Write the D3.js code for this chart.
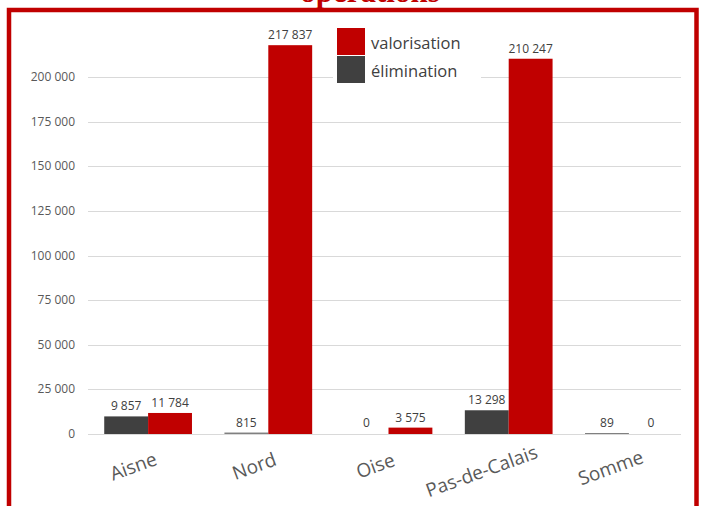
<!DOCTYPE html>
<html><head><meta charset="utf-8">
<script src="https://cdn.jsdelivr.net/npm/d3@7/dist/d3.min.js"></script>
<style>
html,body{margin:0;padding:0;background:#fff;}
svg{display:block;}
</style></head>
<body>
<svg id="chart" width="704" height="506"></svg>
<script>
const categories = ["Aisne", "Nord", "Oise", "Pas-de-Calais", "Somme"];
const elimination = [9857, 815, 0, 13298, 89];
const valorisation = [11784, 217837, 3575, 210247, 0];
const seriesNames = ["élimination", "valorisation"];
const legendOrder = ["valorisation", "élimination"];
const yTicks = [0, 25000, 50000, 75000, 100000, 125000, 150000, 175000, 200000];
const titleText = "opérations";

const colors = {"valorisation": "#c00000", "élimination": "#404040"};
const seriesData = {"élimination": elimination, "valorisation": valorisation};

const svg = d3.select("#chart");
const fmt = v => d3.format(",")(v).replace(/,/g, " ");

const x0 = d3.scaleBand().domain(categories).range([88, 689]);
const bw = x0.bandwidth();
const x1 = d3.scaleBand().domain(seriesNames).range([bw * 0.135, bw * 0.865]);
const y = d3.scaleLinear().domain([0, 225000]).range([434, 32.4]);

// title (cut off at top, as in the reference)
svg.append("text").attr("x", 370).attr("y", 1.5).attr("text-anchor", "middle")
  .attr("font-family", "Liberation Serif").attr("font-weight", "bold").attr("font-size", 31)
  .attr("fill", "#c00000").text(titleText);

// gridlines
svg.append("g").selectAll("line").data(yTicks).join("line")
  .attr("x1", 88).attr("x2", 681)
  .attr("y1", d => Math.round(y(d)) + 0.5).attr("y2", d => Math.round(y(d)) + 0.5)
  .attr("stroke", "#d9d9d9").attr("stroke-width", 1);

// y axis labels
svg.append("g").selectAll("text").data(yTicks).join("text")
  .attr("x", 75).attr("y", d => y(d) + 4).attr("text-anchor", "end")
  .attr("font-family", "Open Sans").attr("font-size", 12).attr("fill", "#595959")
  .text(d => fmt(d));

// bars
const rows = categories.map((c, i) => ({c, vals: seriesNames.map(s => ({s, v: seriesData[s][i]}))}));
const g = svg.append("g").selectAll("g").data(rows).join("g")
  .attr("transform", d => `translate(${x0(d.c)},0)`);
g.selectAll("rect").data(d => d.vals.filter(e => e.v > 0)).join("rect")
  .attr("x", d => x1(d.s)).attr("width", x1.bandwidth())
  .attr("y", d => Math.min(y(d.v), y(0) - 1))
  .attr("height", d => Math.max(y(0) - y(d.v), 1))
  .attr("fill", d => d.v < 1000 ? "#808080" : colors[d.s]);
g.selectAll("text").data(d => d.vals).join("text")
  .attr("x", d => x1(d.s) + x1.bandwidth() / 2)
  .attr("y", d => Math.min(y(d.v), y(0) - 1) - 6)
  .attr("text-anchor", "middle")
  .attr("font-family", "Open Sans").attr("font-size", 12).attr("fill", "#404040")
  .text(d => fmt(d.v));

// category labels
svg.append("g").selectAll("text").data(categories).join("text")
  .attr("text-anchor", "middle").attr("dy", "0.35em")
  .attr("font-family", "Open Sans").attr("font-size", 19).attr("fill", "#595959")
  .text(d => d)
  .each(function(d) {
    const w = this.getComputedTextLength();
    const cx = x0(d) + bw / 2 - 6 - w * 0.18;
    const cy = 463 + w * 0.07;
    d3.select(this).attr("transform", `translate(${cx},${cy}) rotate(-20)`);
  });

// legend
const lg = svg.append("g");
lg.append("rect").attr("x", 333).attr("y", 25).attr("width", 148).attr("height", 61).attr("fill", "#fff");
lg.selectAll("rect.sw").data(legendOrder).join("rect").attr("class", "sw")
  .attr("x", 337).attr("y", (d, i) => 28 + i * 28).attr("width", 28).attr("height", 27)
  .attr("fill", d => colors[d]);
lg.selectAll("text").data(legendOrder).join("text")
  .attr("x", 371).attr("y", (d, i) => 49 + i * 28)
  .attr("font-family", "Open Sans").attr("font-size", 16.5).attr("fill", "#404040")
  .text(d => d);

// border
svg.append("rect").attr("x", 9).attr("y", 10).attr("width", 687.5).attr("height", 520)
  .attr("fill", "none").attr("stroke", "#c00000").attr("stroke-width", 4.5);
</script>
</body></html>
